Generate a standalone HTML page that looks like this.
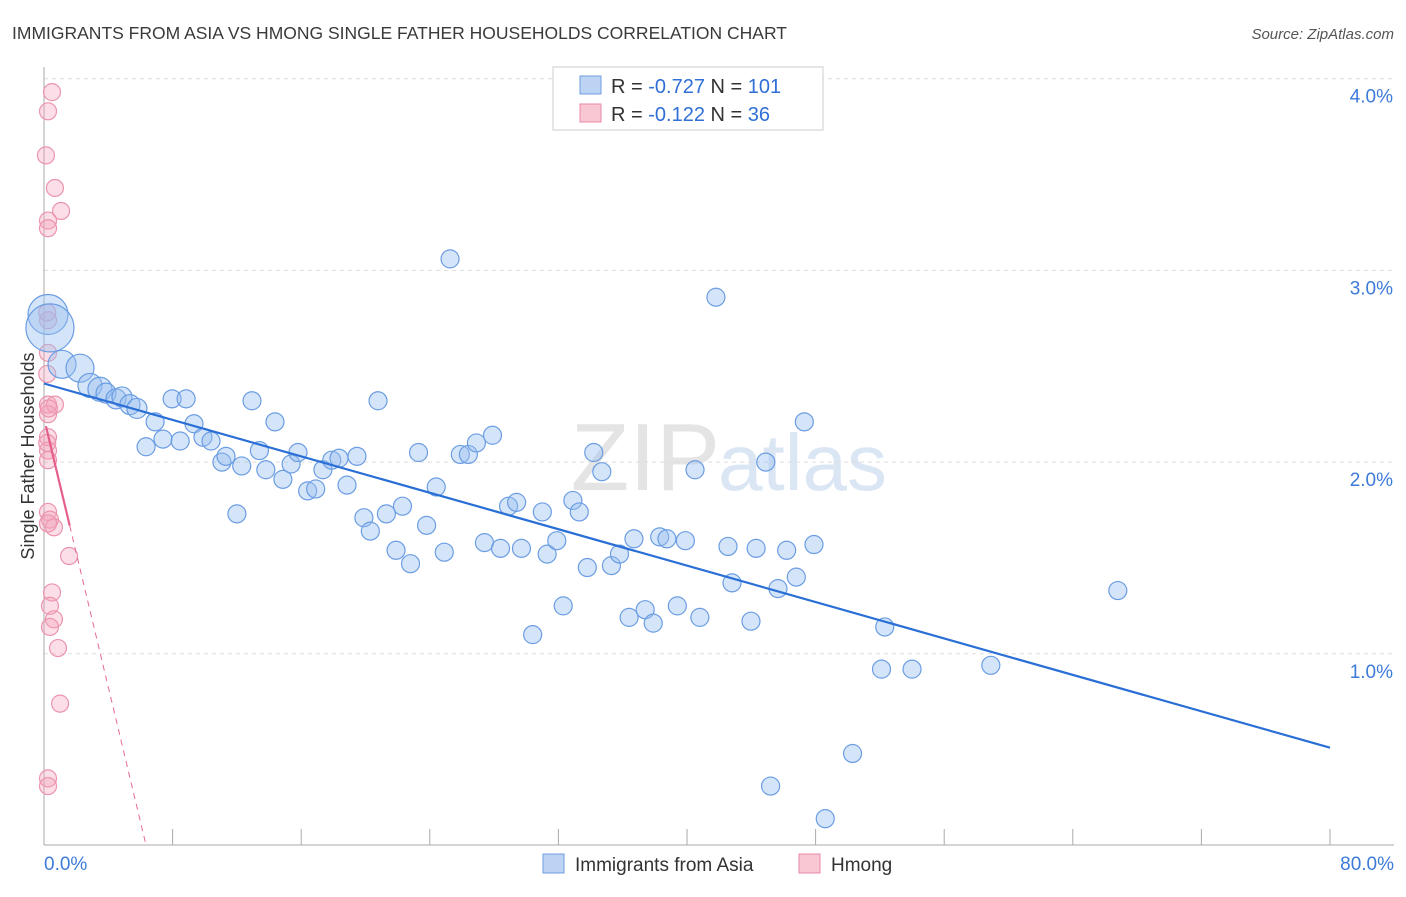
<!DOCTYPE html>
<html><head><meta charset="utf-8"><style>
body{margin:0;background:#fff;font-family:"Liberation Sans",sans-serif}
svg text{font-family:"Liberation Sans",sans-serif}
</style></head><body>
<svg id="c" width="1406" height="892">
<text x="12" y="39" font-size="17.5" fill="#3a3a3a">IMMIGRANTS FROM ASIA VS HMONG SINGLE FATHER HOUSEHOLDS CORRELATION CHART</text>
<text x="1394" y="39" font-size="15" fill="#555" font-style="italic" text-anchor="end">Source: ZipAtlas.com</text>
<text x="720" y="490" font-size="96" fill="#e4e4e4" font-family="Liberation Serif" text-anchor="end">ZIP</text>
<text x="718" y="490" font-size="80" fill="#dbe6f5">atlas</text>
<g id="grid"></g><g id="marks"></g>
<text transform="translate(34,456) rotate(-90)" font-size="18" fill="#333" text-anchor="middle">Single Father Households</text>
<rect x="553" y="67" width="270" height="63" fill="#fff" stroke="#ccc"/>
<rect x="580" y="76" width="21" height="18" fill="#bcd3f3" stroke="#6f9de0"/>
<rect x="580" y="104" width="21" height="18" fill="#f9c6d3" stroke="#e88aa4"/>
<text x="611" y="93" font-size="20" fill="#333">R = <tspan fill="#2f6fd6">-0.727</tspan>   N = <tspan fill="#2f6fd6">101</tspan></text>
<text x="611" y="121" font-size="20" fill="#333">R =  <tspan fill="#2f6fd6">-0.122</tspan>   N =  <tspan fill="#2f6fd6">36</tspan></text>
<rect x="543" y="854" width="21" height="19" fill="#bcd3f3" stroke="#6f9de0"/>
<text x="575" y="871" font-size="19" fill="#333">Immigrants from Asia</text>
<rect x="799" y="854" width="21" height="19" fill="#f9c6d3" stroke="#e88aa4"/>
<text x="831" y="871" font-size="19" fill="#333">Hmong</text>
</svg>
<script>
const xTicks=[0,10,20,30,40,50,60,70,80];
const yTicks=[1,2,3,4];
const yTickLabels=["1.0%","2.0%","3.0%","4.0%"];
const asiaX=[0.25,0.37,1.12,2.24,2.86,3.48,3.86,4.48,4.85,5.35,5.78,6.91,6.35,7.4,7.97,8.84,8.47,9.33,9.89,10.39,11.07,11.32,12.0,12.3,12.94,13.4,13.8,14.37,14.86,15.37,15.8,16.4,16.9,17.35,17.9,18.35,18.85,19.47,19.9,20.3,20.78,21.3,21.9,22.3,22.8,23.3,23.8,24.4,24.9,25.26,25.9,26.4,26.9,27.4,27.9,28.4,28.9,29.4,29.7,30.4,31.0,31.3,31.9,32.3,32.9,33.3,33.8,34.2,34.7,35.3,35.8,36.4,36.7,37.4,37.9,38.3,38.75,39.4,39.9,40.5,40.8,41.8,42.55,42.8,43.98,44.3,44.9,45.2,45.66,46.2,46.8,47.3,47.9,48.6,50.3,52.1,52.3,54.0,58.9,66.8];
const asiaY=[2.77,2.70,2.51,2.49,2.40,2.38,2.36,2.33,2.34,2.30,2.28,2.21,2.08,2.12,2.33,2.33,2.11,2.20,2.13,2.11,2.00,2.03,1.73,1.98,2.32,2.06,1.96,2.21,1.91,1.99,2.05,1.85,1.86,1.96,2.01,2.02,1.88,2.03,1.71,1.64,2.32,1.73,1.54,1.77,1.47,2.05,1.67,1.87,1.53,3.06,2.04,2.04,2.10,1.58,2.14,1.55,1.77,1.79,1.55,1.10,1.74,1.52,1.59,1.25,1.80,1.74,1.45,2.05,1.95,1.46,1.52,1.19,1.60,1.23,1.16,1.61,1.60,1.25,1.59,1.96,1.19,2.86,1.56,1.37,1.17,1.55,2.00,0.31,1.34,1.54,1.40,2.21,1.57,0.14,0.48,0.92,1.14,0.92,0.94,1.33];
const asiaSize=[20,24,14,14,12,12,10,10,10,10,10];
const hmongX=[0.5,0.25,0.12,0.68,1.06,0.25,0.25,0.25,0.25,0.25,0.68,0.25,0.25,0.25,0.25,0.25,0.37,0.62,1.56,0.5,0.37,0.62,0.37,0.87,1.0,0.25,0.25,0.2,0.2,0.3,0.2,0.25];
const hmongY=[3.93,3.83,3.60,3.43,3.31,3.26,3.22,2.74,2.57,2.30,2.30,2.25,2.13,2.06,2.01,1.74,1.70,1.66,1.51,1.32,1.25,1.18,1.14,1.03,0.74,0.35,0.31,2.78,2.46,2.28,2.10,1.68];
const asiaTrend=[2.41,0.51];
const hmongTrend=[2.23,-0.351];
const X0=44,X1=1330,Y0=845.5,YS=191.7;
const sx=v=>X0+(v/80)*(X1-X0), sy=v=>Y0-v*YS;
const NS="http://www.w3.org/2000/svg";
function mk(t,a,p){const e=document.createElementNS(NS,t);for(const k in a)e.setAttribute(k,a[k]);p.appendChild(e);return e;}
const grid=document.getElementById('grid'),marks=document.getElementById('marks');
yTicks.forEach((t,i)=>{
 const l=mk('line',{x1:X0,x2:1394,y1:sy(t),y2:sy(t),stroke:'#ddd','stroke-dasharray':'4,4'},grid);
 
 
 const tx=mk('text',{x:1393,y:sy(t)+24,'font-size':19,fill:'#3d7bd9','text-anchor':'end'},grid);
 tx.textContent=yTickLabels[i];
 
 
});
const ax=mk('line',{x1:X0,x2:1394,y1:845,y2:845,stroke:'#aaa'},grid);


const ay=mk('line',{x1:X0,x2:X0,y1:67,y2:845,stroke:'#aaa'},grid);


for(let v=0;v<=80;v+=8){const t=mk('line',{x1:sx(v),x2:sx(v),y1:829,y2:845,stroke:'#aaa'},grid);
 
 }
const xl=mk('text',{x:44,y:870,'font-size':19,fill:'#3d7bd9'},grid);xl.textContent=xTicks[0].toFixed(1)+'%';


const xr=mk('text',{x:1394,y:870,'font-size':19,fill:'#3d7bd9','text-anchor':'end'},grid);xr.textContent=xTicks[8].toFixed(1)+'%';


hmongX.forEach((x,i)=>{const c=mk('circle',{cx:sx(x),cy:sy(hmongY[i]),r:8.5,fill:'rgba(244,160,185,0.35)',stroke:'#eb95ad','stroke-width':1.2},marks);
 
 });
asiaX.forEach((x,i)=>{const c=mk('circle',{cx:sx(x),cy:sy(asiaY[i]),r:asiaSize[i]||9,fill:'rgba(150,190,240,0.4)',stroke:'#6b9de3','stroke-width':1.2},marks);
 
 });
const tl=mk('line',{x1:sx(0),y1:sy(asiaTrend[0]),x2:sx(80),y2:sy(asiaTrend[0]+(asiaTrend[1]-asiaTrend[0])),stroke:'#2a6fd6','stroke-width':2.2},marks);


const hz=-hmongTrend[0]/hmongTrend[1];
const hd=mk('line',{x1:sx(1.6),y1:sy(hmongTrend[0]+hmongTrend[1]*1.6),x2:sx(hz),y2:sy(0),stroke:'#e86a90','stroke-width':1,'stroke-dasharray':'6,5'},marks);


const hs=mk('line',{x1:sx(0.12),y1:sy(hmongTrend[0]+hmongTrend[1]*0.12),x2:sx(1.6),y2:sy(hmongTrend[0]+hmongTrend[1]*1.6),stroke:'#e4608a','stroke-width':2.2},marks);


</script>
</body></html>
